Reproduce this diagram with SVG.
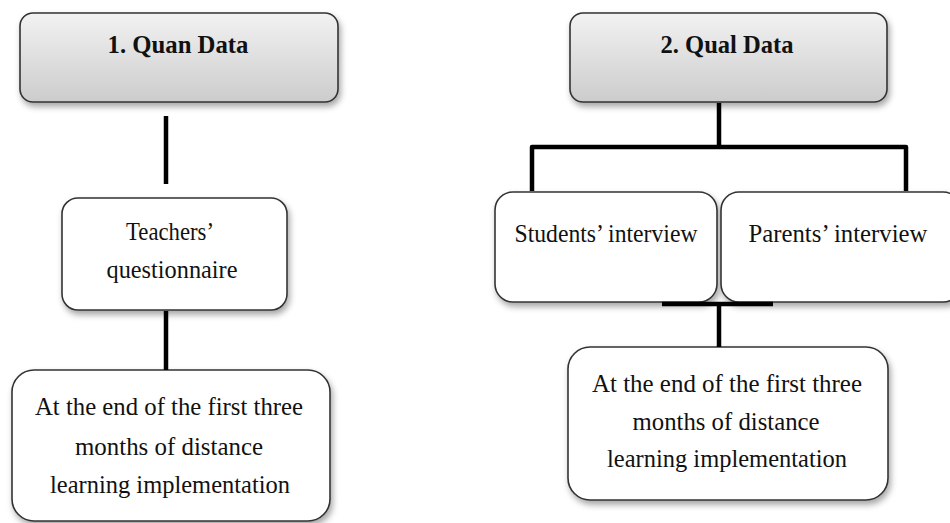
<svg xmlns="http://www.w3.org/2000/svg" width="950" height="523" viewBox="0 0 950 523">
<defs>
<linearGradient id="g" x1="0" y1="0" x2="0" y2="1">
<stop offset="0" stop-color="#f2f2f2"/>
<stop offset="1" stop-color="#cccccc"/>
</linearGradient>
<filter id="sh" x="-10%" y="-10%" width="125%" height="135%">
<feDropShadow dx="2" dy="4" stdDeviation="3" flood-color="#000" flood-opacity="0.35"/>
</filter>
</defs>
<style>
.box{fill:#fff;stroke:#333;stroke-width:1.6;filter:url(#sh)}
.title{fill:url(#g);stroke:#333;stroke-width:1.6;filter:url(#sh)}
.t{font-size:26px;fill:#111;text-anchor:middle}
.b{font-size:25px;font-weight:bold;fill:#111;text-anchor:middle}
.c{stroke:#000;stroke-width:4.5;fill:none}
</style>
<rect width="950" height="523" fill="#fff"/>
<g font-family="Liberation Serif, Times New Roman, serif">
<g id="quan">
<rect class="title" x="20" y="13" width="318" height="89" rx="13"/>
<text class="b" x="178" y="53" textLength="141" lengthAdjust="spacingAndGlyphs">1. Quan Data</text>
</g>
<g id="qual">
<rect class="title" x="570" y="13" width="317" height="89" rx="13"/>
<text class="b" x="727" y="53" textLength="133" lengthAdjust="spacingAndGlyphs">2. Qual Data</text>
</g>
<g id="teachers">
<rect class="box" x="62" y="198" width="225" height="112" rx="16"/>
<text class="t" x="170" y="240" textLength="88" lengthAdjust="spacingAndGlyphs">Teachers’</text>
<text class="t" x="172" y="278" textLength="131" lengthAdjust="spacingAndGlyphs">questionnaire</text>
</g>
<g id="time-left">
<rect class="box" x="12" y="370" width="318" height="151" rx="22"/>
<text class="t" x="169" y="415" textLength="268" lengthAdjust="spacingAndGlyphs">At the end of the first three</text>
<text class="t" x="169" y="455" textLength="188" lengthAdjust="spacingAndGlyphs">months of distance</text>
<text class="t" x="170" y="493" textLength="240" lengthAdjust="spacingAndGlyphs">learning implementation</text>
</g>
<g id="students">
<rect class="box" x="495" y="192" width="222" height="110" rx="18"/>
<text class="t" x="606" y="242" textLength="183" lengthAdjust="spacingAndGlyphs">Students’ interview</text>
</g>
<g id="parents">
<rect class="box" x="721" y="192" width="240" height="110" rx="18"/>
<text class="t" x="838" y="242" textLength="179" lengthAdjust="spacingAndGlyphs">Parents’ interview</text>
</g>
<g id="time-right">
<rect class="box" x="568" y="347" width="320" height="153" rx="22"/>
<text class="t" x="727" y="392" textLength="270" lengthAdjust="spacingAndGlyphs">At the end of the first three</text>
<text class="t" x="726" y="430" textLength="187" lengthAdjust="spacingAndGlyphs">months of distance</text>
<text class="t" x="727" y="467" textLength="240" lengthAdjust="spacingAndGlyphs">learning implementation</text>
</g>
</g>
<g id="connectors">
<line class="c" x1="166" y1="116" x2="166" y2="184"/>
<line class="c" x1="166" y1="311" x2="166" y2="370"/>
<line class="c" x1="719" y1="103" x2="719" y2="147"/>
<polyline class="c" points="532,191 532,147 906,147 906,191" stroke-linejoin="round"/>
<line class="c" x1="662" y1="304" x2="773" y2="304" stroke-width="5"/>
<line class="c" x1="719" y1="304" x2="719" y2="347"/>
</g>
</svg>
